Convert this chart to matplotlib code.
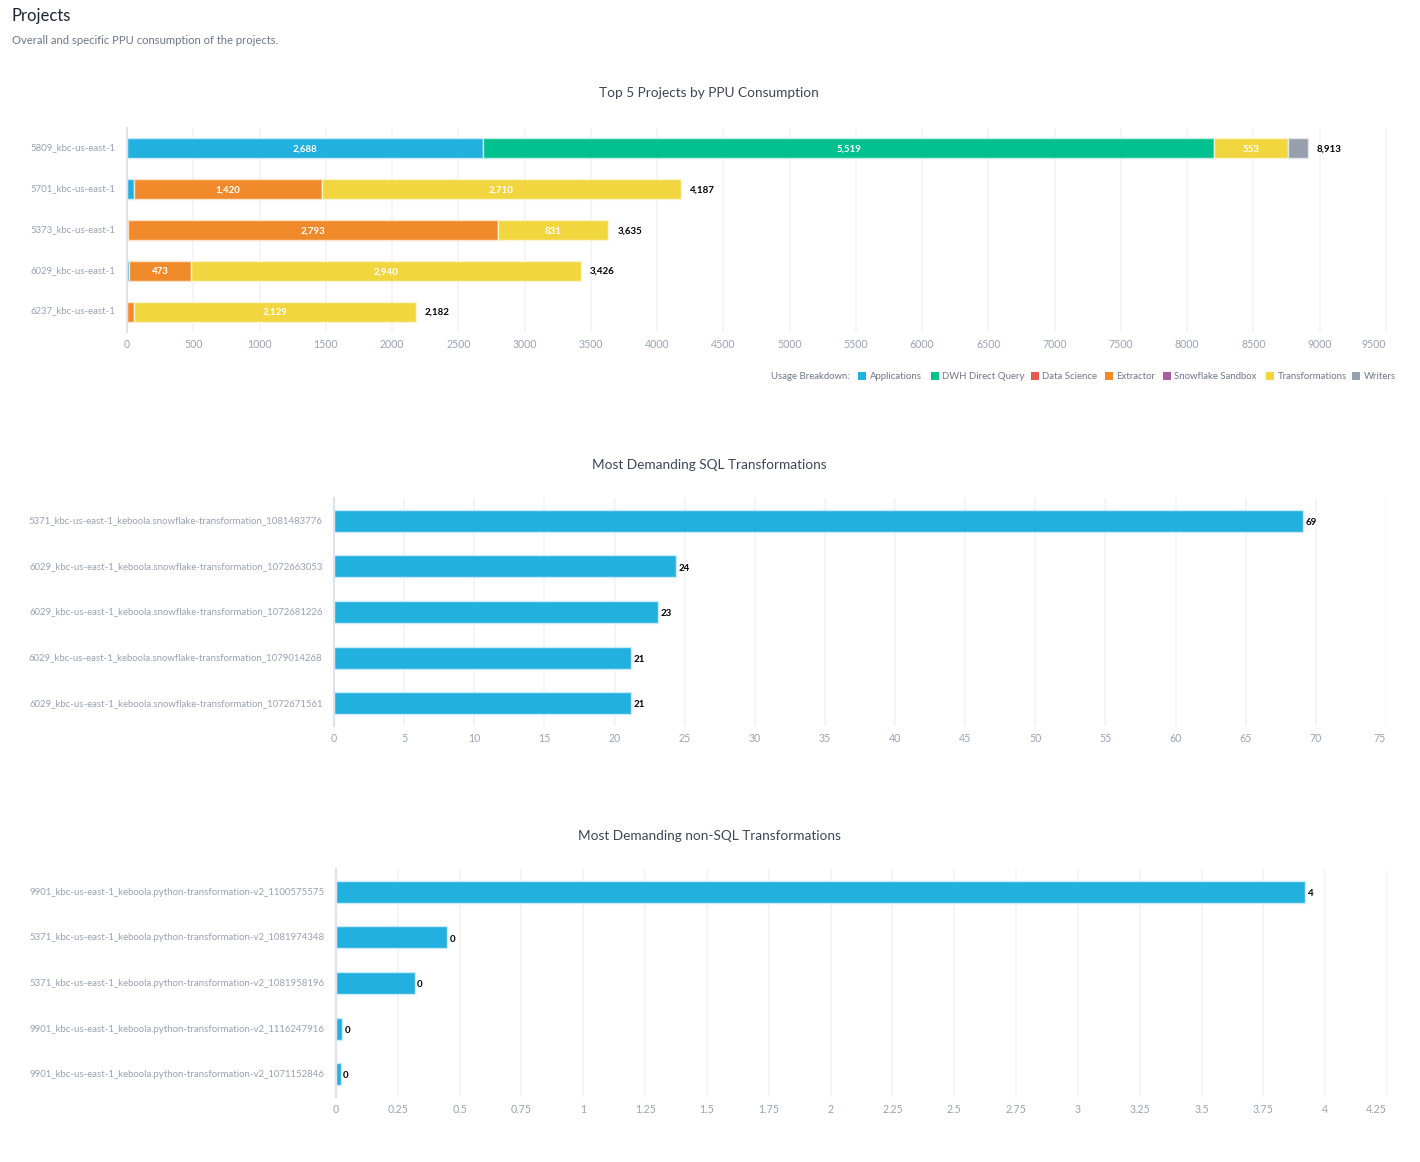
import numpy as np
import matplotlib
matplotlib.use('Agg')
import matplotlib.pyplot as plt
from matplotlib.patches import Rectangle
from matplotlib.transforms import ScaledTranslation

plt.rcParams['font.family'] = ['Lato', 'DejaVu Sans']

W = 1420
H = 1162

# top 5 projects
projects = ['5809_kbc-us-east-1', '5701_kbc-us-east-1', '5373_kbc-us-east-1',
            '6029_kbc-us-east-1', '6237_kbc-us-east-1']
breakdown = ['Applications', 'DWH Direct Query', 'Data Science', 'Extractor',
             'Snowflake Sandbox', 'Transformations', 'Writers']
applications = [2688, 50, 0, 13, 0]
dwh_query = [5519, 0, 0, 0, 0]
data_science = [0, 0, 8, 0, 0]
extractor = [0, 1420, 2793, 473, 50]
sandbox = [0, 0, 0, 0, 0]
transformations = [553, 2710, 831, 2940, 2129]
writers = [153, 0, 0, 0, 0]
project_totals = [8913, 4187, 3635, 3426, 2182]
project_ticks = np.arange(0, 9501, 500)

# sql transformations
sql_names = ['5371_kbc-us-east-1_keboola.snowflake-transformation_1081483776',
             '6029_kbc-us-east-1_keboola.snowflake-transformation_1072663053',
             '6029_kbc-us-east-1_keboola.snowflake-transformation_1072681226',
             '6029_kbc-us-east-1_keboola.snowflake-transformation_1079014268',
             '6029_kbc-us-east-1_keboola.snowflake-transformation_1072671561']
sql_values = [69.1, 24.4, 23.1, 21.2, 21.2]
sql_ticks = np.arange(0, 76, 5)

# non-sql transformations
py_names = ['9901_kbc-us-east-1_keboola.python-transformation-v2_1100575575',
            '5371_kbc-us-east-1_keboola.python-transformation-v2_1081974348',
            '5371_kbc-us-east-1_keboola.python-transformation-v2_1081958196',
            '9901_kbc-us-east-1_keboola.python-transformation-v2_1116247916',
            '9901_kbc-us-east-1_keboola.python-transformation-v2_1071152846']
py_values = [3.92, 0.45, 0.32, 0.025, 0.02]
py_ticks = np.arange(0, 4.26, 0.25)

colors = ['#22b0df', '#00c08f', '#e8594d', '#f18a2a', '#ab5aa0', '#f2d640', '#989fac']
edges = ['#c8ebf7', '#c0efe3', '#f9d5d2', '#fbe2c9', '#e9d5e7', '#fbf5cf', '#e5e7ea']
grey = '#98a2b0'
title_color = '#3c4656'
note_color = '#6d7786'


def make_axes(fig, left, right, top, bottom):
    ax = fig.add_axes([left / W, 1 - bottom / H, (right - left) / W, (bottom - top) / H])
    for s in ['top', 'right', 'bottom']:
        ax.spines[s].set_visible(False)
    ax.spines['left'].set_color('#dde2ec')
    ax.spines['left'].set_linewidth(1.5)
    ax.grid(axis='x', color='#f1f3f6', linewidth=1.2)
    ax.set_axisbelow(True)
    ax.tick_params(length=0, labelcolor=grey)
    ax.tick_params(axis='x', labelsize=7.6, pad=5.2)
    ax.tick_params(axis='y', labelsize=6.9, pad=8.2)
    return ax


def finish_ticks(ax, names, ticks, xmax, label_shift):
    ax.set_yticks(np.arange(len(names)))
    ax.set_yticklabels(names)
    ax.set_ylim(len(names) - 0.5, -0.5)
    ax.set_xlim(0, xmax)
    ax.set_xticks(ticks)
    ax.set_xticklabels(['%g' % t for t in ticks])
    # last tick label stays inside the plot, like the reference
    ax.get_xticklabels()[-1].set_ha('right')
    shift = ScaledTranslation(0, label_shift / 100, fig.dpi_scale_trans)
    for lab in ax.get_yticklabels():
        lab.set_transform(lab.get_transform() + shift)


def simple_chart(ax, names, values, ticks, xmax, title, title_y, label_shift):
    y = np.arange(len(names))
    ax.barh(y, values, height=0.48, color=colors[0], edgecolor=edges[0], linewidth=1)
    finish_ticks(ax, names, ticks, xmax, label_shift)
    for i, v in enumerate(values):
        ax.annotate('%.0f' % v if v >= 1 else '0', (v, i), xytext=(1.5, -1.2), textcoords='offset points',
                    va='center', ha='left', fontsize=7, fontweight='bold', color='black')
    fig.text(709 / W, 1 - title_y / H, title, ha='center', va='center', fontsize=9.8, color=title_color)


fig = plt.figure(figsize=(W / 100, H / 100), dpi=100, facecolor='white')

fig.text(12 / W, 1 - 16 / H, 'Projects', fontsize=12, color='#1d2533', va='center', ha='left')
fig.text(12 / W, 1 - 41 / H, 'Overall and specific PPU consumption of the projects.',
         fontsize=8.15, color=note_color, va='center', ha='left')

# stacked chart
ax1 = make_axes(fig, 127, 1387, 128, 332)
series = [applications, dwh_query, data_science, extractor, sandbox, transformations, writers]
left = np.zeros(len(projects))
for name, vals, c, e in zip(breakdown, series, colors, edges):
    vals = np.array(vals, dtype=float)
    keep = vals > 0
    y1 = np.arange(len(projects))
    ax1.barh(y1[keep], vals[keep], left=left[keep], height=0.49, color=c, edgecolor=e,
             linewidth=1, label=name)
    for i, v in enumerate(vals):
        if v >= 400:
            ax1.text(left[i] + v / 2, i, format(int(v), ','), ha='center', va='center_baseline',
                     fontsize=7, fontweight='bold', color='white')
    left += vals
finish_ticks(ax1, projects, project_ticks, 9509, 1.5)
for i, t in enumerate(project_totals):
    ax1.annotate(format(t, ','), (left[i], i), xytext=(6.5, -0.5), textcoords='offset points', va='center',
                 ha='left', fontsize=7, fontweight='bold', color='black')
fig.text(709 / W, 1 - 93 / H, 'Top 5 Projects by PPU Consumption', ha='center', va='center',
         fontsize=9.8, color=title_color)

# legend
fig.text(850 / W, 1 - 376.5 / H, 'Usage Breakdown:', ha='right', va='center', fontsize=6.9, color=note_color)
swatches = [858, 931, 1031, 1105, 1163, 1266, 1352]
for sx, name, c in zip(swatches, breakdown, colors):
    fig.add_artist(Rectangle((sx / W, 1 - 380 / H), 8 / W, 8 / H, transform=fig.transFigure,
                             facecolor=c, edgecolor='none'))
    fig.text((sx + 11.5) / W, 1 - 376.5 / H, name, ha='left', va='center', fontsize=6.9, color=note_color)

ax2 = make_axes(fig, 334, 1386, 498, 726)
simple_chart(ax2, sql_names, sql_values, sql_ticks, 75, 'Most Demanding SQL Transformations', 464.5, 1)

ax3 = make_axes(fig, 336, 1387, 869, 1097)
simple_chart(ax3, py_names, py_values, py_ticks, 4.25, 'Most Demanding non-SQL Transformations', 835.5, 0.5)

fig.savefig('out.png', dpi=100)
